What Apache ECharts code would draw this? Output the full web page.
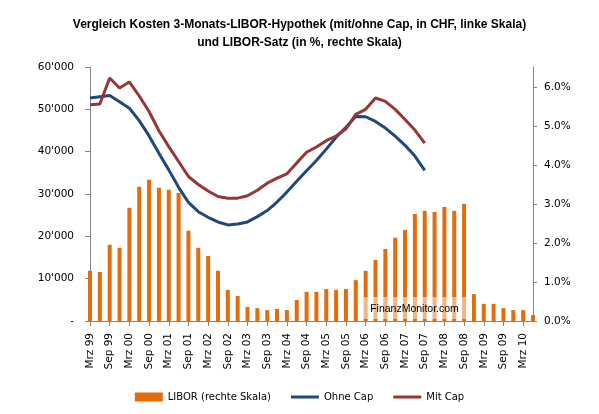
<!DOCTYPE html>
<html><head><meta charset="utf-8">
<script src="https://cdn.jsdelivr.net/npm/echarts@6/dist/echarts.min.js"></script>
<style>html,body{margin:0;padding:0;background:#fff}#c{width:599px;height:414px}</style>
</head><body><div id="c"></div>
<script>
// Quarterly categories (Mrz 99 .. Jun 10)
const categories = [
  'Mrz 99','Jun 99','Sep 99','Dez 99',
  'Mrz 00','Jun 00','Sep 00','Dez 00',
  'Mrz 01','Jun 01','Sep 01','Dez 01',
  'Mrz 02','Jun 02','Sep 02','Dez 02',
  'Mrz 03','Jun 03','Sep 03','Dez 03',
  'Mrz 04','Jun 04','Sep 04','Dez 04',
  'Mrz 05','Jun 05','Sep 05','Dez 05',
  'Mrz 06','Jun 06','Sep 06','Dez 06',
  'Mrz 07','Jun 07','Sep 07','Dez 07',
  'Mrz 08','Jun 08','Sep 08','Dez 08',
  'Mrz 09','Jun 09','Sep 09','Dez 09',
  'Mrz 10','Jun 10'
];
// LIBOR in % (right axis)
const liborPct = [
  1.29,1.26,1.96,1.88,
  2.91,3.45,3.63,3.42,
  3.37,3.29,2.32,1.88,
  1.67,1.29,0.80,0.64,
  0.36,0.33,0.28,0.31,
  0.28,0.54,0.75,0.75,
  0.82,0.80,0.82,1.05,
  1.29,1.57,1.85,2.14,
  2.34,2.75,2.83,2.80,
  2.93,2.83,3.01,0.69,
  0.44,0.44,0.33,0.28,
  0.28,0.15
];
// Costs in CHF (left axis), Mrz 99 .. Sep 07
const ohneCap = [
  52670,52980,53250,51800,
  50250,47340,43720,39650,
  35700,31570,28030,25820,
  24500,23400,22700,22900,
  23400,24650,26090,28100,
  30450,33000,35500,37900,
  40600,43400,45750,48320,
  48250,47140,45580,43650,
  41500,38950,35600
];
const mitCap = [
  51090,51250,57400,55040,
  56460,53150,49500,44950,
  41200,37680,34130,32250,
  30700,29400,29020,29020,
  29600,30900,32560,33750,
  34770,37350,39850,41100,
  42600,43700,45400,48800,
  50000,52670,51870,49980,
  47600,45100,42030
];
const rightTicks = [0,1,2,3,4,5,6];
const seriesNames = ['LIBOR (rechte Skala)','Ohne Cap','Mit Cap'];
const titleText = 'Vergleich Kosten 3-Monats-LIBOR-Hypothek (mit/ohne Cap, in CHF, linke Skala)\nund LIBOR-Satz (in %, rechte Skala)';

const axisFont = 'DejaVu Sans';
const axisColor = '#868686';
const lineIcon = 'path://M0,0H28V3H0Z';
const chart = echarts.init(document.getElementById('c'), null, {renderer:'canvas'});
chart.setOption({
  backgroundColor:'#ffffff',
  animation:false,
  title:{
    text:titleText,
    left:'center',
    top:16,
    padding:[0,0,0,7],
    textStyle:{fontFamily:'Liberation Sans',fontWeight:'bold',fontSize:12,lineHeight:18,color:'#000'}
  },
  grid:{left:90,right:66,top:67,bottom:93,containLabel:false},
  legend:{
    left:'center',top:387,
    itemWidth:28,itemHeight:9,itemGap:20,
    textStyle:{fontFamily:axisFont,fontSize:10,color:'#000'},
    data:[{name:seriesNames[0],icon:'rect'},{name:seriesNames[1],icon:lineIcon},{name:seriesNames[2],icon:lineIcon}]
  },
  xAxis:{
    type:'category',
    data:categories,
    boundaryGap:false,
    axisLine:{lineStyle:{color:axisColor,width:1}},
    axisTick:{show:true,interval:1,length:5,lineStyle:{color:axisColor}},
    axisLabel:{interval:1,rotate:90,margin:12,fontFamily:axisFont,fontSize:10.5,color:'#000'},
    splitLine:{show:false}
  },
  yAxis:[{
    type:'value',min:0,max:60000,interval:10000,
    axisLine:{show:true,lineStyle:{color:axisColor}},
    axisTick:{show:true,inside:false,length:5,lineStyle:{color:axisColor}},
    axisLabel:{margin:16,fontFamily:axisFont,fontSize:10.5,color:'#000',
      formatter:function(v){ if(v===0) return '-'; return String(v).replace(/\B(?=(\d{3})+(?!\d))/g,"'"); }},
    splitLine:{show:false}
  },{
    type:'value',min:0,max:6.525,position:'right',
    axisLine:{show:true,lineStyle:{color:axisColor}},
    axisTick:{show:true,length:4,customValues:rightTicks,lineStyle:{color:axisColor}},
    axisLabel:{customValues:rightTicks,margin:11,fontFamily:axisFont,fontSize:10.5,color:'#000',
      formatter:function(v){return v.toFixed(1)+'%';}},
    splitLine:{show:false}
  }],
  series:[{
    name:seriesNames[0],type:'bar',yAxisIndex:1,data:liborPct,barWidth:4,
    itemStyle:{color:'#E46C0A'},clip:true,z:2
  },{
    name:seriesNames[1],type:'line',yAxisIndex:0,data:ohneCap,symbol:'none',
    lineStyle:{color:'#1F497D',width:3},itemStyle:{color:'#1F497D'},z:3
  },{
    name:seriesNames[2],type:'line',yAxisIndex:0,data:mitCap,symbol:'none',
    lineStyle:{color:'#953735',width:3},itemStyle:{color:'#953735'},z:4
  }],
  graphic:[
    {type:'rect',z:100,zlevel:0,shape:{x:363,y:297,width:103,height:22},style:{fill:'#ffffff',opacity:0.5}},
    {type:'text',z:101,x:414.5,y:309,style:{text:'FinanzMonitor.com',fill:'#000',font:'10.5px "Liberation Sans"',align:'center',verticalAlign:'middle'}}
  ]
});
</script>
</body></html>
